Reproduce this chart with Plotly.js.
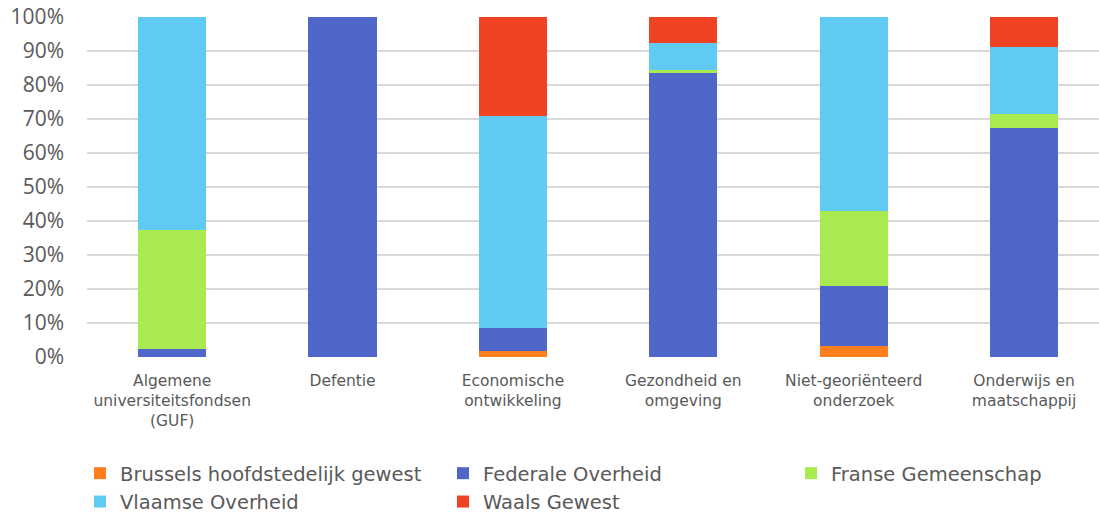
<!DOCTYPE html>
<html>
<head>
<meta charset="utf-8">
<script src="https://cdn.plot.ly/plotly-3.0.1.min.js"></script>
<style>html,body{margin:0;padding:0;overflow:hidden;background:#fff}#chart{width:1099px;height:513px}</style>
</head>
<body>
<div id="chart"></div>
<script>
const categories = [
  "Algemene<br>universiteitsfondsen<br>(GUF)",
  "Defentie",
  "Economische<br>ontwikkeling",
  "Gezondheid en<br>omgeving",
  "Niet-georiënteerd<br>onderzoek",
  "Onderwijs en<br>maatschappij"
];
const seriesNames = ["Brussels hoofdstedelijk gewest", "Federale Overheid", "Franse Gemeenschap", "Vlaamse Overheid", "Waals Gewest"];
const brussels = [0, 0, 1.8, 0, 3.1, 0];
const federale = [2.5, 100, 6.7, 83.6, 17.7, 67.4];
const franse = [34.8, 0, 0, 0.9, 22.2, 4.0];
const vlaamse = [62.7, 0, 62.5, 7.9, 57.0, 19.9];
const waals = [0, 0, 29.0, 7.6, 0, 8.7];
const colors = ["#FF7F1F", "#4F67C8", "#A9EA50", "#5FCBF2", "#EF4323"];
const values = [brussels, federale, franse, vlaamse, waals];
// legend column for each series (reference legend is a 3-column grid)
const legendColumn = ["legend", "legend2", "legend3", "legend", "legend2"];

const traces = seriesNames.map((name, i) => ({
  type: 'bar',
  name: name,
  x: categories,
  y: values[i],
  legend: legendColumn[i],
  marker: {color: colors[i], line: {width: 0}},
  hoverinfo: 'x+y+name'
}));

const legendFont = {family: '"DejaVu Sans", sans-serif', size: 19.5, color: '#595959'};
function legendAt(x) {
  return {
    orientation: 'v',
    x: x, xanchor: 'left', xref: 'paper',
    y: 0.115, yanchor: 'top', yref: 'container',
    font: legendFont,
    traceorder: 'normal',
    bgcolor: 'rgba(0,0,0,0)'
  };
}

const layout = {
  width: 1099,
  height: 513,
  margin: {l: 87, r: 0, t: 17, b: 156, autoexpand: false},
  barmode: 'stack',
  bargap: 0.6,
  paper_bgcolor: '#fff',
  plot_bgcolor: '#fff',
  font: {family: '"DejaVu Sans", sans-serif', color: '#595959'},
  xaxis: {
    type: 'category',
    range: [-0.5, 5.44],
    showgrid: false,
    showline: false,
    zeroline: false,
    ticks: '',
    tickfont: {family: '"DejaVu Sans", sans-serif', size: 15.5, color: '#595959'},
    ticklabelstandoff: 12
  },
  yaxis: {
    range: [0, 100],
    dtick: 10,
    ticksuffix: '%',
    showgrid: true,
    gridcolor: '#d9d9d9',
    gridwidth: 1.5,
    zeroline: false,
    showline: false,
    tickfont: {family: '"Open Sans", sans-serif', size: 21, color: '#595959'},
    ticklabelstandoff: 22
  },
  showlegend: true,
  legend: legendAt(-0.0069),
  legend2: legendAt(0.3518),
  legend3: legendAt(0.6957)
};

Plotly.newPlot('chart', traces, layout, {displayModeBar: false, staticPlot: true});
</script>
</body>
</html>
